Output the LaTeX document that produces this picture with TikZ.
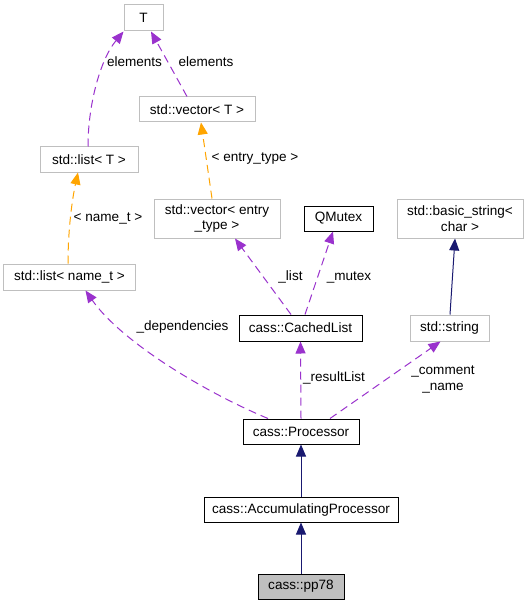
\documentclass[tikz,border=0pt]{standalone}
\usepackage{fontspec}
\setmainfont{Liberation Sans}
\usetikzlibrary{arrows.meta}
\definecolor{edgepurple}{HTML}{9A32CD}
\definecolor{edgeorange}{HTML}{FFA500}
\definecolor{navy}{HTML}{191970}
\definecolor{graybox}{HTML}{BFBFBF}
\begin{document}
\begin{tikzpicture}[x=1bp,y=-1bp,
  every node/.style={font=\fontsize{13.6}{15.5}\selectfont, inner sep=0pt},
  box/.style={draw=graybox, line width=1bp, fill=white, align=center},
  cbox/.style={draw=black, line width=1bp, fill=white, align=center},
  lbl/.style={align=center, text=black},
  uses/.style={draw=edgepurple, line width=1bp, dash pattern=on 8bp off 5bp, -{Triangle[length=12bp,width=10bp,fill=edgepurple]}},
  templ/.style={draw=edgeorange, line width=1bp, dash pattern=on 8bp off 5bp, -{Triangle[length=12bp,width=10bp,fill=edgeorange]}},
  inh/.style={draw=navy, line width=1bp, -{Triangle[length=12bp,width=10bp,fill=navy]}}
]
\useasboundingbox[fill=white] (0,0) rectangle (528,605);

\node[box, minimum width=39bp, minimum height=26bp] (T) at (143.5,18) {T};
\node[box, minimum width=116bp, minimum height=25bp] (vecT) at (197,109.5) {std::vector{\char`<} T {\char`>}};
\node[box, minimum width=98bp, minimum height=25bp] (listT) at (89,159.5) {std::list{\char`<} T {\char`>}};
\node[box, minimum width=126bp, minimum height=39bp] (vecE) at (217,218.5) {std::vector{\char`<} entry\\\_type {\char`>}};
\node[cbox, minimum width=69bp, minimum height=25bp] (qmutex) at (338.5,218.5) {QMutex};
\node[box, minimum width=126bp, minimum height=39bp] (bstr) at (460,218.5) {std::basic\_string{\char`<}\\char {\char`>}};
\node[box, minimum width=131bp, minimum height=26bp] (listN) at (69.5,277) {std::list{\char`<} name\_t {\char`>}};
\node[cbox, minimum width=123bp, minimum height=26bp] (cached) at (300.5,328) {cass::CachedList};
\node[box, minimum width=79bp, minimum height=26bp] (str) at (449.5,328) {std::string};
\node[cbox, minimum width=116bp, minimum height=25bp] (proc) at (301,431.5) {cass::Processor};
\node[cbox, minimum width=194bp, minimum height=25bp] (acc) at (301,509.5) {cass::AccumulatingProcessor};
\node[cbox, fill=graybox, minimum width=86bp, minimum height=25bp] (pp78) at (301,586.5) {cass::pp78};

% edges
\draw[uses] ([xshift=-1bp]listT.north) .. controls (88,105) and (100,60) .. (T.south west);
\draw[uses] ([xshift=-10bp]vecT.north) -- ([xshift=7.5bp]T.south);
\draw[templ] ([xshift=-5bp]vecE.north) -- ([xshift=4bp]vecT.south);
\draw[templ] ([xshift=-1.5bp]listN.north) .. controls (68,230) and (72,200) .. ([xshift=-11bp]listT.south);
\draw[uses] ([xshift=-9.5bp]cached.north) -- ([xshift=18bp]vecE.south);
\draw[uses] ([xshift=4.5bp]cached.north) -- ([xshift=-5.5bp]qmutex.south);
\draw[uses] ([xshift=-33bp]proc.north) .. controls (200,390) and (120,340) .. ([xshift=16bp]listN.south);
\draw[uses] (proc.north) -- (cached.south);
\draw[uses] ([xshift=29bp]proc.north) -- ([xshift=-9bp]str.south);
\draw[inh] ([xshift=0.5bp]str.north) -- ([xshift=-5bp]bstr.south);
\draw[inh] (acc.north) -- (proc.south);
\draw[inh] (pp78.north) -- (acc.south);

% labels
\node[lbl] (l1) at (134.5,62) {elements};
\node[lbl] (l2) at (206,62) {elements};
\node[lbl] (l3) at (108,218) {{\char`<} name\_t {\char`>}};
\node[lbl] (l4) at (255,159) {{\char`<} entry\_type {\char`>}};
\node[lbl] (l5) at (290.5,277) {\_list};
\node[lbl] (l6) at (349,277) {\_mutex};
\node[lbl] (l7) at (182.5,327) {\_dependencies};
\node[lbl] (l8) at (334,378) {\_resultList};
\node[lbl] (l9) at (443,379.5) {\_comment\\\_name};
\end{tikzpicture}
\end{document}
